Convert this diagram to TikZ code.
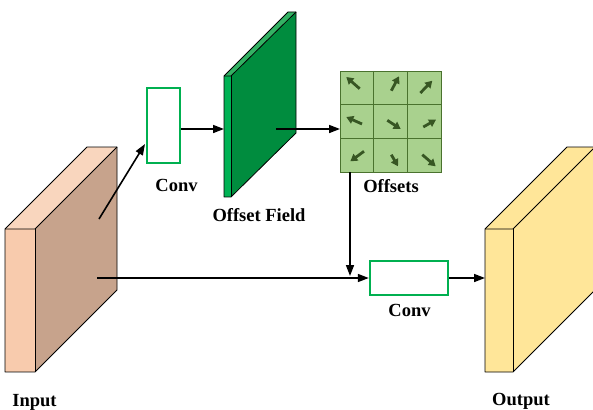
\documentclass[tikz,border=0pt]{standalone}
\usepackage{fontspec}
\setmainfont{Liberation Serif}
\usetikzlibrary{arrows.meta}

\definecolor{inFront}{RGB}{248,203,173}
\definecolor{inTop}{RGB}{249,214,190}
\definecolor{inSide}{RGB}{199,163,140}
\definecolor{fieldFront}{RGB}{0,178,84}
\definecolor{fieldTop}{RGB}{52,178,100}
\definecolor{fieldSide}{RGB}{0,140,62}
\definecolor{outFace}{RGB}{255,230,153}
\definecolor{convGreen}{RGB}{0,176,80}
\definecolor{cellFill}{RGB}{169,209,142}
\definecolor{cellLine}{RGB}{74,114,46}
\definecolor{offArrow}{RGB}{55,86,35}

\tikzset{
  label text/.style={font=\fontsize{18.5}{20}\selectfont\bfseries, anchor=base, inner sep=0pt},
  face/.style={draw=black, line width=0.8pt, line join=round},
  convbox/.style={draw=convGreen, line width=2.4pt, fill=white, inner sep=0pt},
  link/.style={line width=1.6pt, -{Triangle[length=11pt,width=8pt]}},
  plain link/.style={line width=1.6pt},
  offset arrow/.style={draw=offArrow, line width=2.8pt, -{Triangle[length=7pt,width=8pt]}, shorten <=0pt},
}

\begin{document}
\begin{tikzpicture}[x=1pt,y=-1pt]
\useasboundingbox (0,0) rectangle (593,409);

% ---- input feature block ----
\fill[inTop] (5,229) -- (87,147) -- (117,147) -- (35,229) -- cycle;
\fill[inSide] (35,229) -- (117,147) -- (117,290) -- (35,372) -- cycle;
\fill[inFront] (5,229) rectangle (35,372);
\draw[face] (5,229) -- (87,147) -- (117,147) -- (117,290) -- (35,372) -- (5,372) -- cycle;
\draw[face] (5,229) -- (35,229) -- (117,147);
\draw[face] (35,229) -- (35,372);

% ---- offset field block ----
\fill[fieldTop] (224,76) -- (288,12) -- (296,12) -- (231,76) -- cycle;
\fill[fieldSide] (231,76) -- (296,12) -- (296,133) -- (231,197) -- cycle;
\fill[fieldFront] (224,76) rectangle (231,197);
\draw[face] (224,76) -- (288,12) -- (296,12) -- (296,133) -- (231,197) -- (224,197) -- cycle;
\draw[face] (224,76) -- (231,76) -- (296,12);
\draw[face] (231,76) -- (231,197);

% ---- output feature block ----
\fill[outFace] (485,229) -- (567,147) -- (595,147) -- (595,290) -- (513,372) -- (485,372) -- cycle;
\draw[face] (485,229) -- (567,147) -- (595,147) -- (595,290) -- (513,372) -- (485,372) -- cycle;
\draw[face] (485,229) -- (513,229) -- (595,147);
\draw[face] (513,229) -- (513,372);

% ---- convolution boxes ----
\node[convbox, minimum width=33pt, minimum height=75pt] (conv1) at (163.5,125.5) {};
\node[convbox, minimum width=78pt, minimum height=34pt] (conv2) at (409,278) {};

% ---- offsets grid ----
\node[draw=cellLine, fill=cellFill, line width=1.4pt, minimum size=101pt, inner sep=0pt,
      anchor=north west] (offs) at (340,71) {};
\draw[cellLine, line width=1.4pt]
  (373.67,71) -- (373.67,172) (407.33,71) -- (407.33,172)
  (340,104.67) -- (441,104.67) (340,138.33) -- (441,138.33);
\draw[offset arrow] (359.7,88.7) -- (346.3,77);
\draw[offset arrow] (391.3,90.7) -- (399,76.3);
\draw[offset arrow] (420.3,93) -- (432.3,80.7);
\draw[offset arrow] (362,124) -- (346.3,117);
\draw[offset arrow] (387.3,120.3) -- (400.7,129);
\draw[offset arrow] (423.3,127) -- (436,119.7);
\draw[offset arrow] (364,151.3) -- (350.3,161.3);
\draw[offset arrow] (391.3,154.7) -- (398,166.3);
\draw[offset arrow] (422.3,154.7) -- (435.7,166.3);

% ---- connector end points on the blocks ----
\coordinate (inUp) at (99,219);
\coordinate (inMid) at (97,278);
\coordinate (convIn) at (145,144);
\coordinate (fieldIn) at (224,129);
\coordinate (fieldOut) at (276,129);
\coordinate (offsIn) at (340,129);
\coordinate (offsDown) at (350,172);
\coordinate (merge) at (350,276);
\coordinate (outIn) at (485,278);

% ---- connectors ----
\draw[link] (inUp) -- (convIn);
\draw[link] (conv1.east |- fieldIn) -- (fieldIn);
\draw[link] (fieldOut) -- (offsIn);
\draw[link] (offsDown) -- (merge);
\draw[link] (inMid) -- (conv2.west);
\draw[link] (conv2.east) -- (outIn);

% ---- labels ----
\node[label text] (lconv1) at (176.5,191) {Conv};
\node[label text] (lfield) at (259,221.5) {Offset Field};
\node[label text] (loffs) at (391,192) {Offsets};
\node[label text] (lconv2) at (409.5,316) {Conv};
\node[label text] (linput) at (34.5,406) {Input};
\node[label text] (loutput) at (521,405.5) {Output};
\end{tikzpicture}
\end{document}
